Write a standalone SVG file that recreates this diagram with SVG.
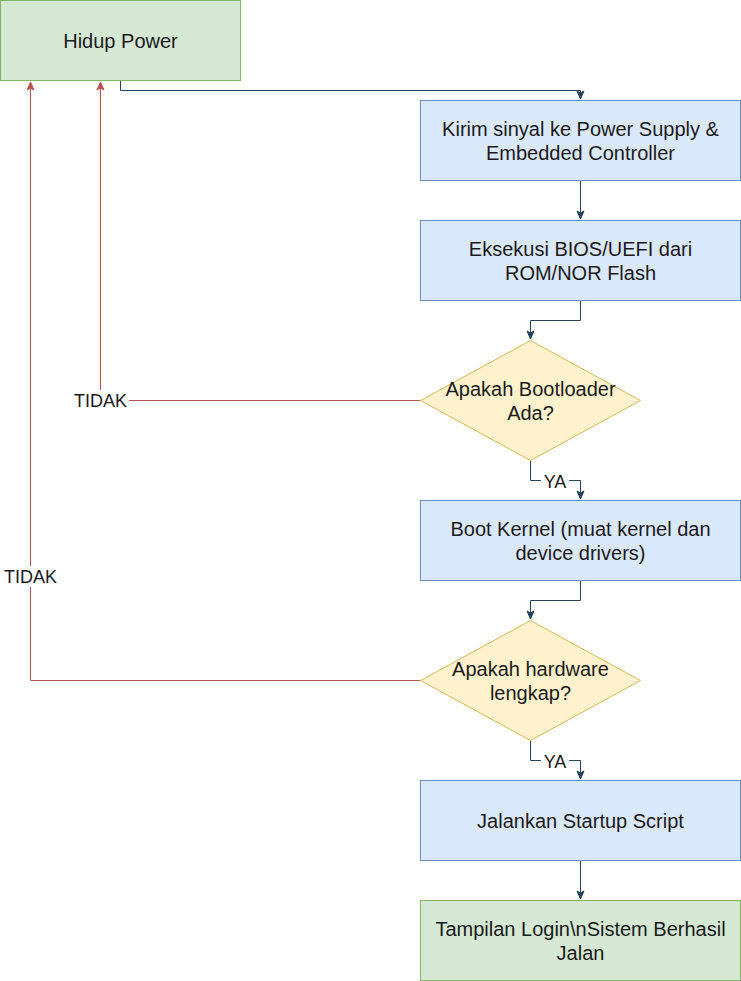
<svg xmlns="http://www.w3.org/2000/svg" width="741" height="981" viewBox="0 0 741 981">
<defs>
<style>
.g{fill:#d5e8d4;stroke:#82b366;stroke-width:1}
.b{fill:#dae8fc;stroke:#6c8ebf;stroke-width:1}
.d{fill:#fff2cc;stroke:#d6b656;stroke-width:1}
.t{font-family:"Liberation Sans",Arial,sans-serif;font-size:20px;fill:#1a1a1a;text-anchor:middle}
.l{font-family:"Liberation Sans",Arial,sans-serif;font-size:18px;fill:#1a1a1a;text-anchor:middle}
.c{fill:none;stroke:#23445d;stroke-width:1}
.r{fill:none;stroke:#b85450;stroke-width:1}
.lb{fill:#ffffff}
</style>
<marker id="ad" markerWidth="10" markerHeight="10" refX="9" refY="5" orient="auto" markerUnits="userSpaceOnUse">
<path d="M1,1.5 L9,5 L1,8.5 L3,5 Z" fill="#23445d" stroke="#23445d" stroke-width="1"/>
</marker>
<marker id="ar" markerWidth="10" markerHeight="10" refX="9" refY="5" orient="auto" markerUnits="userSpaceOnUse">
<path d="M1,1.5 L9,5 L1,8.5 L3,5 Z" fill="#b85450" stroke="#b85450" stroke-width="1"/>
</marker>
</defs>
<rect width="741" height="981" fill="#ffffff"/>
<g id="connectors">
<path class="c" d="M120.5,80.5 V90.5 H580.5 V99" marker-end="url(#ad)"/>
<path class="c" d="M580.5,180.5 V219" marker-end="url(#ad)"/>
<path class="c" d="M580.5,300.5 V320.5 H530.5 V339" marker-end="url(#ad)"/>
<path class="c" d="M530.5,460.5 V480.5 H580.5 V499" marker-end="url(#ad)"/>
<path class="c" d="M580.5,580.5 V600.5 H530.5 V619" marker-end="url(#ad)"/>
<path class="c" d="M530.5,740.5 V760.5 H580.5 V779" marker-end="url(#ad)"/>
<path class="c" d="M580.5,860.5 V899" marker-end="url(#ad)"/>
<path class="r" d="M420.5,400.5 H100.5 V82" marker-end="url(#ar)"/>
<path class="r" d="M420.5,680.5 H30.5 V82" marker-end="url(#ar)"/>
<rect class="lb" x="541" y="471" width="28" height="20"/>
<text class="l" x="555" y="488">YA</text>
<rect class="lb" x="541" y="751" width="28" height="20"/>
<text class="l" x="555" y="768">YA</text>
<rect class="lb" x="72" y="390" width="57" height="21"/>
<text class="l" x="100.5" y="407">TIDAK</text>
<rect class="lb" x="2" y="566" width="57" height="21"/>
<text class="l" x="30.5" y="583">TIDAK</text>
</g>
<g id="n_hidup"><rect class="g" x="0.5" y="0.5" width="240" height="80"/><text class="t" x="120.5" y="48">Hidup Power</text></g>
<g id="n_kirim"><rect class="b" x="420.5" y="100.5" width="320" height="80"/><text class="t" x="580.5" y="136">Kirim sinyal ke Power Supply &amp;</text><text class="t" x="580.5" y="160">Embedded Controller</text></g>
<g id="n_bios"><rect class="b" x="420.5" y="220.5" width="320" height="80"/><text class="t" x="580.5" y="256">Eksekusi BIOS/UEFI dari</text><text class="t" x="580.5" y="280">ROM/NOR Flash</text></g>
<g id="n_boot"><path class="d" d="M530.5,340.5 L640.5,400.5 L530.5,460.5 L420.5,400.5 Z"/><text class="t" x="530.5" y="396">Apakah Bootloader</text><text class="t" x="530.5" y="420">Ada?</text></g>
<g id="n_kernel"><rect class="b" x="420.5" y="500.5" width="320" height="80"/><text class="t" x="580.5" y="536">Boot Kernel (muat kernel dan</text><text class="t" x="580.5" y="560">device drivers)</text></g>
<g id="n_hw"><path class="d" d="M530.5,620.5 L640.5,680.5 L530.5,740.5 L420.5,680.5 Z"/><text class="t" x="530.5" y="676">Apakah hardware</text><text class="t" x="530.5" y="700">lengkap?</text></g>
<g id="n_startup"><rect class="b" x="420.5" y="780.5" width="320" height="80"/><text class="t" x="580.5" y="828">Jalankan Startup Script</text></g>
<g id="n_login"><rect class="g" x="420.5" y="900.5" width="320" height="80"/><text class="t" x="580.5" y="936">Tampilan Login\nSistem Berhasil</text><text class="t" x="580.5" y="960">Jalan</text></g>
</svg>
